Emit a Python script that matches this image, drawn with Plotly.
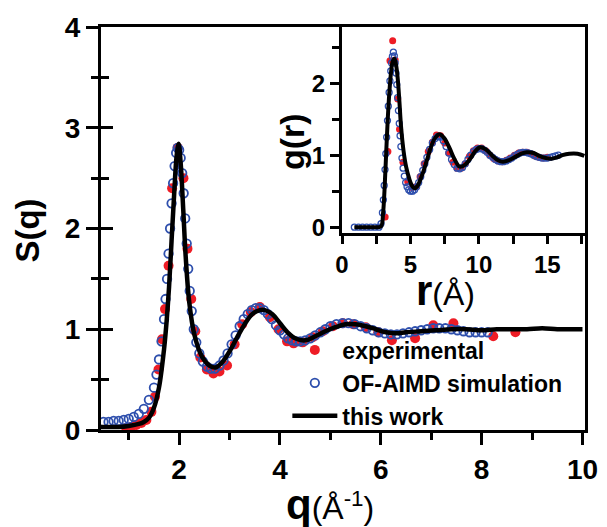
import plotly.graph_objects as go

# S(q) - main panel
q_exp = [0.95, 1.05, 1.15, 1.25, 1.35, 1.45, 1.52, 1.59, 1.66, 1.72, 1.79, 1.86, 1.97, 2.085, 2.165,
         2.24, 2.32, 2.42, 2.55, 2.68, 2.8, 2.95, 3.1, 3.25, 3.42, 3.6, 3.8, 3.97, 4.14, 4.27,
         4.45, 4.65, 4.85, 5.05, 5.25, 5.45, 5.7, 5.95, 6.22, 6.68, 7.04, 7.44, 8.23, 8.67]
s_exp = [0.02, 0.03, 0.05, 0.07, 0.1, 0.18, 0.33, 0.6, 0.9, 1.2, 1.63, 2.4, 2.8, 2.5, 1.8,
         1.3, 0.98, 0.72, 0.6, 0.56, 0.58, 0.64, 0.85, 1.05, 1.17, 1.22, 1.12, 1.0, 0.88, 0.86,
         0.87, 0.92, 0.98, 1.03, 1.06, 1.05, 1.02, 0.97, 0.89, 0.91, 1.04, 1.06, 0.93, 0.97]

q_sim = [0.5, 0.6, 0.7, 0.8, 0.9, 1.0, 1.1, 1.2, 1.3, 1.4, 1.5, 1.55, 1.6, 1.65, 1.7, 1.73, 1.76,
         1.79, 1.82, 1.85, 1.88, 1.91, 1.94, 1.97, 2.0, 2.03, 2.06, 2.09, 2.12, 2.15, 2.18, 2.21,
         2.25, 2.29, 2.34, 2.4, 2.47, 2.55, 2.63, 2.71, 2.8, 2.88, 2.96, 3.04, 3.12, 3.2, 3.28,
         3.36, 3.44, 3.52, 3.6, 3.68, 3.76, 3.84, 3.92, 4.0, 4.08, 4.16, 4.24, 4.32, 4.4, 4.5,
         4.6, 4.7, 4.8, 4.9, 5.0, 5.12, 5.24, 5.36, 5.48, 5.6, 5.72, 5.84, 5.96, 6.08, 6.2, 6.32,
         6.44, 6.56, 6.68, 6.8, 6.92, 7.04, 7.16, 7.28, 7.4, 7.52, 7.64, 7.76, 7.88, 8.0, 8.12]
s_sim = [0.08, 0.08, 0.09, 0.09, 0.1, 0.11, 0.13, 0.16, 0.21, 0.3, 0.42, 0.55, 0.7, 0.88, 1.1, 1.3, 1.5,
         1.75, 2.0, 2.25, 2.45, 2.62, 2.75, 2.8, 2.78, 2.7, 2.55, 2.35, 2.1, 1.85, 1.6, 1.38,
         1.18, 1.0, 0.87, 0.76, 0.68, 0.63, 0.61, 0.61, 0.64, 0.69, 0.76, 0.85, 0.94, 1.03, 1.1,
         1.15, 1.19, 1.21, 1.21, 1.19, 1.15, 1.1, 1.04, 0.99, 0.95, 0.91, 0.89, 0.88, 0.88, 0.89,
         0.91, 0.94, 0.97, 1.0, 1.03, 1.05, 1.06, 1.06, 1.05, 1.03, 1.01, 0.99, 0.97, 0.96, 0.95, 0.95,
         0.96, 0.97, 0.98, 0.99, 1.0, 1.01, 1.01, 1.01, 1.0, 0.99, 0.98, 0.97, 0.97, 0.97, 0.97]

q_fit = [0.45, 0.6, 0.8, 1.0, 1.2, 1.3, 1.4, 1.5, 1.6, 1.7, 1.75, 1.8, 1.85, 1.9, 1.95, 1.99, 2.03,
         2.08, 2.13, 2.2, 2.3, 2.45, 2.6, 2.72, 2.85, 3.0, 3.15, 3.3, 3.45, 3.6, 3.7, 3.85, 4.0,
         4.15, 4.3, 4.5, 4.7, 4.9, 5.1, 5.3, 5.5, 5.7, 5.9, 6.1, 6.3, 6.5, 6.8, 7.1, 7.4, 7.7,
         8.0, 8.3, 8.6, 8.9, 9.2, 9.5, 9.8, 10.0]
s_fit = [0.03, 0.03, 0.03, 0.04, 0.06, 0.08, 0.12, 0.22, 0.42, 0.8, 1.07, 1.42, 1.88, 2.33, 2.72, 2.84, 2.65,
         2.2, 1.72, 1.27, 0.95, 0.73, 0.64, 0.62, 0.67, 0.78, 0.92, 1.05, 1.15, 1.19, 1.19, 1.15, 1.06,
         0.97, 0.91, 0.89, 0.93, 0.98, 1.02, 1.05, 1.05, 1.03, 1.0, 0.97, 0.96, 0.97, 0.98, 0.99, 1.0, 1.0,
         0.99, 1.0, 1.0, 1.0, 1.01, 1.0, 1.0, 1.0]

# g(r) - inset
r_exp = [3.15, 3.35, 3.5, 3.7, 3.88, 4.07, 4.2, 4.45, 4.8, 5.1, 5.4, 5.7, 6.0, 6.3, 6.6, 6.9, 7.2,
         7.5, 7.8, 8.1, 8.4, 8.7, 9.0, 9.3, 9.6, 9.9, 10.2, 10.5, 10.8, 11.1, 11.4, 11.7, 12.0,
         12.3, 12.6, 12.9, 13.2, 13.5, 13.8, 14.1, 14.4, 14.7, 15.0]
g_exp = [0.14, 1.05, 2.31, 2.59, 2.32, 1.78, 1.36, 0.9, 0.63, 0.55, 0.56, 0.7, 0.88, 1.05, 1.18, 1.28, 1.27,
         1.17, 1.03, 0.9, 0.82, 0.82, 0.88, 0.98, 1.06, 1.1, 1.1, 1.06, 1.0, 0.95, 0.92, 0.91, 0.93,
         0.96, 1.0, 1.03, 1.04, 1.04, 1.02, 0.99, 0.97, 0.96, 0.97]

r_sim = [0.9, 1.2, 1.5, 1.8, 2.1, 2.4, 2.7, 2.85, 2.95, 3.02, 3.08, 3.14, 3.2, 3.26, 3.32, 3.38, 3.44,
         3.5, 3.56, 3.62, 3.68, 3.75, 3.82, 3.88, 3.94, 4.0, 4.06, 4.12, 4.18, 4.24, 4.3, 4.38, 4.46,
         4.55, 4.65, 4.75, 4.87, 5.0, 5.15, 5.3, 5.45, 5.6, 5.75, 5.9, 6.05, 6.2, 6.4, 6.6, 6.8, 7.0,
         7.2, 7.4, 7.6, 7.8, 8.0, 8.2, 8.4, 8.6, 8.8, 9.0, 9.2, 9.4, 9.6, 9.8, 10.0, 10.2, 10.4, 10.6,
         10.8, 11.0, 11.2, 11.4, 11.6, 11.8, 12.0, 12.2, 12.4, 12.6, 12.8, 13.0, 13.2, 13.4, 13.6,
         13.8, 14.0, 14.2, 14.4, 14.6, 14.8, 15.0, 15.2, 15.4, 15.6, 15.8]
g_sim = [0.0, 0.0, 0.0, 0.0, 0.0, 0.0, 0.0, 0.05, 0.2, 0.38, 0.58, 0.8, 1.02, 1.25, 1.48, 1.68, 1.87,
         2.03, 2.17, 2.28, 2.37, 2.43, 2.38, 2.28, 2.14, 1.98, 1.8, 1.62, 1.44, 1.27, 1.12, 0.96, 0.82,
         0.71, 0.62, 0.56, 0.52, 0.5, 0.5, 0.52, 0.56, 0.62, 0.7, 0.79, 0.88, 0.97, 1.08, 1.17, 1.23, 1.26,
         1.25, 1.2, 1.12, 1.03, 0.94, 0.87, 0.82, 0.81, 0.83, 0.88, 0.94, 1.0, 1.05, 1.08, 1.09, 1.09, 1.07, 1.04,
         1.0, 0.97, 0.94, 0.92, 0.91, 0.91, 0.92, 0.94, 0.96, 0.99, 1.01, 1.03, 1.04, 1.04, 1.03,
         1.02, 1.0, 0.98, 0.97, 0.96, 0.96, 0.96, 0.97, 0.98, 0.99, 1.0]

r_fit = [0.9, 1.5, 2.0, 2.5, 2.85, 3.0, 3.1, 3.2, 3.34, 3.46, 3.58, 3.7, 3.83, 3.95, 4.07, 4.19, 4.31,
         4.5, 4.68, 4.9, 5.1, 5.29, 5.5, 5.7, 5.9, 6.2, 6.51, 6.8, 7.12, 7.45, 7.85, 8.2, 8.6, 9.0,
         9.4, 9.75, 10.1, 10.5, 11.0, 11.4, 11.75, 12.2, 12.7, 13.1, 13.5, 14.0, 14.4, 14.9, 15.3,
         15.7, 16.1, 16.6, 17.2, 17.7]
g_fit = [0.0, 0.0, 0.0, 0.0, 0.01, 0.2, 0.5, 0.92, 1.5, 1.88, 2.15, 2.3, 2.34, 2.25, 2.06, 1.75, 1.4,
         1.05, 0.84, 0.68, 0.58, 0.54, 0.57, 0.65, 0.75, 0.93, 1.12, 1.24, 1.29, 1.24, 1.1, 0.95, 0.84, 0.87,
         0.96, 1.06, 1.11, 1.08, 0.99, 0.93, 0.91, 0.93, 0.98, 1.02, 1.04, 1.03, 0.99, 0.96, 0.95,
         0.97, 1.0, 1.02, 1.02, 0.99]

RED = '#ee1c25'
BLUE = '#2e4fad'
FONT = 'Liberation Sans, Arial, sans-serif'

fig = go.Figure()

# main panel
fig.add_trace(go.Scatter(x=q_exp, y=s_exp, mode='markers', name='experimental',
                         marker=dict(color=RED, size=10), legendgroup='a'))
fig.add_trace(go.Scatter(x=q_sim, y=s_sim, mode='markers', name='OF-AIMD simulation',
                         marker=dict(symbol='circle-open', color=BLUE, size=8.5, line=dict(width=1.8)),
                         legendgroup='b'))
fig.add_trace(go.Scatter(x=q_fit, y=s_fit, mode='lines', name='this work',
                         line=dict(color='black', width=4.5, shape='spline'), legendgroup='c'))
# dummy trace so the inner-tick axis is drawn
fig.add_trace(go.Scatter(x=[None], y=[None], yaxis='y3', showlegend=False, hoverinfo='skip'))

# inset
fig.add_trace(go.Scatter(x=r_exp, y=g_exp, mode='markers', xaxis='x2', yaxis='y2', showlegend=False,
                         marker=dict(color=RED, size=7)))
fig.add_trace(go.Scatter(x=r_sim, y=g_sim, mode='markers', xaxis='x2', yaxis='y2', showlegend=False,
                         marker=dict(symbol='circle-open', color=BLUE, size=6, line=dict(width=1.3))))
fig.add_trace(go.Scatter(x=r_fit, y=g_fit, mode='lines', xaxis='x2', yaxis='y2', showlegend=False,
                         line=dict(color='black', width=4, shape='spline')))

axis_common = dict(showgrid=False, zeroline=False, showline=True, linecolor='black', linewidth=3,
                   mirror=True, ticks='outside', tickcolor='black', tickwidth=3, automargin=False,
                   tickfont=dict(family=FONT, size=28, color='black', weight='bold'))

# the page body adds 8px on the left/top, so the figure is 8px smaller
fig.update_layout(
    width=599, height=519,
    margin=dict(l=93, r=22, t=19, b=97),
    paper_bgcolor='white', plot_bgcolor='white',
    font=dict(family=FONT, color='black'),
    xaxis=dict(axis_common, domain=[0, 1], range=[0.45, 10.05], tickmode='linear', tick0=0, dtick=2,
               ticklen=12, minor=dict(ticks='outside', dtick=1, tick0=0, ticklen=7, tickwidth=3,
                                      tickcolor='black')),
    yaxis=dict(axis_common, domain=[0, 1], range=[0, 4], tickmode='linear', tick0=0, dtick=1,
               ticklen=12, minor=dict(ticks='outside', dtick=0.5, tick0=0, ticklen=7, tickwidth=3,
                                      tickcolor='black')),
    yaxis3=dict(overlaying='y', anchor='x', side='left', range=[0, 4], showgrid=False, zeroline=False,
                showline=False, showticklabels=False, ticks='inside', tickmode='linear', tick0=0,
                dtick=1, ticklen=12, tickwidth=3, tickcolor='black', automargin=False,
                minor=dict(ticks='inside', dtick=0.5, tick0=0, ticklen=8, tickwidth=3,
                           tickcolor='black')),
    xaxis2=dict(axis_common, domain=[0.498, 1], anchor='y2', range=[0, 17.75], tickmode='linear',
                tick0=0, dtick=5, ticklen=8,
                tickfont=dict(family=FONT, size=24, color='black', weight='bold'),
                minor=dict(ticks='outside', dtick=2.5, tick0=0, ticklen=8, tickwidth=3,
                           tickcolor='black')),
    yaxis2=dict(axis_common, domain=[0.489, 1], anchor='x2', range=[-0.08, 2.78], tickmode='linear',
                tick0=0, dtick=1, ticklen=9,
                tickfont=dict(family=FONT, size=24, color='black', weight='bold'),
                minor=dict(ticks='outside', dtick=0.5, tick0=0, ticklen=7, tickwidth=3,
                           tickcolor='black')),
    legend=dict(x=0.385, y=0.252, xanchor='left', yanchor='top', bgcolor='rgba(0,0,0,0)',
                font=dict(family=FONT, size=23, color='black', weight='bold'),
                itemwidth=45, tracegroupgap=0),
    showlegend=True,
)

# axis titles
fig.add_annotation(text='<b>S(q)</b>', xref='paper', yref='paper', x=-0.152, y=0.496,
                   xanchor='center', yanchor='middle', textangle=-90, showarrow=False,
                   font=dict(family=FONT, size=33, color='black'))
fig.add_annotation(text='<b>g(r)</b>', xref='paper', yref='paper', x=0.395, y=0.715,
                   xanchor='center', yanchor='middle', textangle=-90, showarrow=False,
                   font=dict(family=FONT, size=34, color='black'))
fig.add_annotation(text='<b><span style="font-size:42px">q</span></b>(Å<sup>-1</sup>)',
                   xref='paper', yref='paper', x=0.473, y=-0.186, xanchor='center', yanchor='middle',
                   showarrow=False, font=dict(family=FONT, size=32, color='black'))
fig.add_annotation(text='<b><span style="font-size:42px">r</span></b>(Å)',
                   xref='paper', yref='paper', x=0.711, y=0.347, xanchor='center', yanchor='middle',
                   showarrow=False, font=dict(family=FONT, size=32, color='black'))

fig.write_html("out.html")
